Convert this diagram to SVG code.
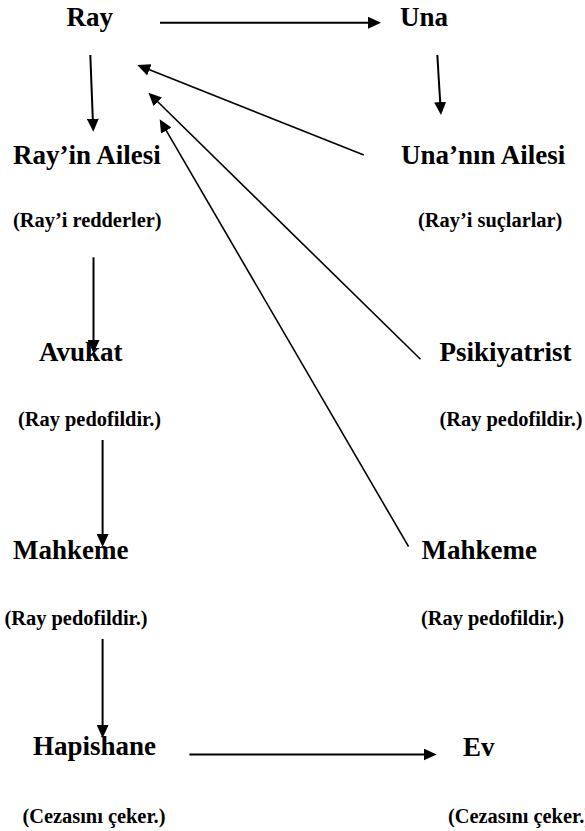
<svg xmlns="http://www.w3.org/2000/svg" width="585" height="831" viewBox="0 0 585 831">
<style>
text { font-family: "Liberation Serif", "Times New Roman", serif; font-weight: bold; fill: #000; }
.main { font-size: 27px; }
.sub { font-size: 20.4px; }
.edge { stroke: #000; fill: none; stroke-width: 2; }
.diag { stroke: #000; fill: none; stroke-width: 1.6; }
</style>
<defs>
<marker id="ah" markerUnits="userSpaceOnUse" markerWidth="13" markerHeight="12" refX="10" refY="6" orient="auto">
<path d="M0,0 L13,6 L0,12 z" fill="#000"/>
</marker>
</defs>
<rect width="585" height="831" fill="#fff"/>
<g id="connectors">
<line class="edge" x1="160" y1="22.7" x2="378" y2="22.7" marker-end="url(#ah)"/>
<line class="edge" x1="90.3" y1="55" x2="93.2" y2="128.7" marker-end="url(#ah)"/>
<line class="edge" x1="437.3" y1="55" x2="440.8" y2="112" marker-end="url(#ah)"/>
<line class="diag" x1="363.8" y1="155" x2="140.1" y2="66.1" marker-end="url(#ah)"/>
<line class="diag" x1="420.5" y1="359.3" x2="150.6" y2="94.8" marker-end="url(#ah)"/>
<line class="diag" x1="408.6" y1="546.7" x2="161.2" y2="121.9" marker-end="url(#ah)"/>
<line class="edge" x1="93.5" y1="257.3" x2="93.5" y2="350" marker-end="url(#ah)"/>
<line class="edge" x1="102.6" y1="440" x2="102.6" y2="544" marker-end="url(#ah)"/>
<line class="edge" x1="102.6" y1="639" x2="102.6" y2="735" marker-end="url(#ah)"/>
<line class="edge" x1="189.4" y1="754.5" x2="433.7" y2="754.5" marker-end="url(#ah)"/>
</g>
<g id="ray"><text class="main" x="66.5" y="25.5">Ray</text></g>
<g id="una"><text class="main" x="400" y="25.5">Una</text></g>
<g id="ray-ailesi">
<text class="main" x="13" y="164">Ray’in Ailesi</text>
<text class="sub" x="13" y="227">(Ray’i redderler)</text>
</g>
<g id="una-ailesi">
<text class="main" x="401" y="164">Una’nın Ailesi</text>
<text class="sub" x="418" y="227">(Ray’i suçlarlar)</text>
</g>
<g id="avukat">
<text class="main" x="39" y="360.5">Avukat</text>
<text class="sub" x="18" y="426">(Ray pedofildir.)</text>
</g>
<g id="psikiyatrist">
<text class="main" x="439.5" y="360.5">Psikiyatrist</text>
<text class="sub" x="439.5" y="426">(Ray pedofildir.)</text>
</g>
<g id="mahkeme-left">
<text class="main" x="13" y="559">Mahkeme</text>
<text class="sub" x="4.5" y="625">(Ray pedofildir.)</text>
</g>
<g id="mahkeme-right">
<text class="main" x="421.6" y="559">Mahkeme</text>
<text class="sub" x="421" y="625">(Ray pedofildir.)</text>
</g>
<g id="hapishane">
<text class="main" x="33" y="755">Hapishane</text>
<text class="sub" x="22.4" y="823">(Cezasını çeker.)</text>
</g>
<g id="ev">
<text class="main" x="463" y="756">Ev</text>
<text class="sub" x="448" y="823">(Cezasını çeker.)</text>
</g>
</svg>
